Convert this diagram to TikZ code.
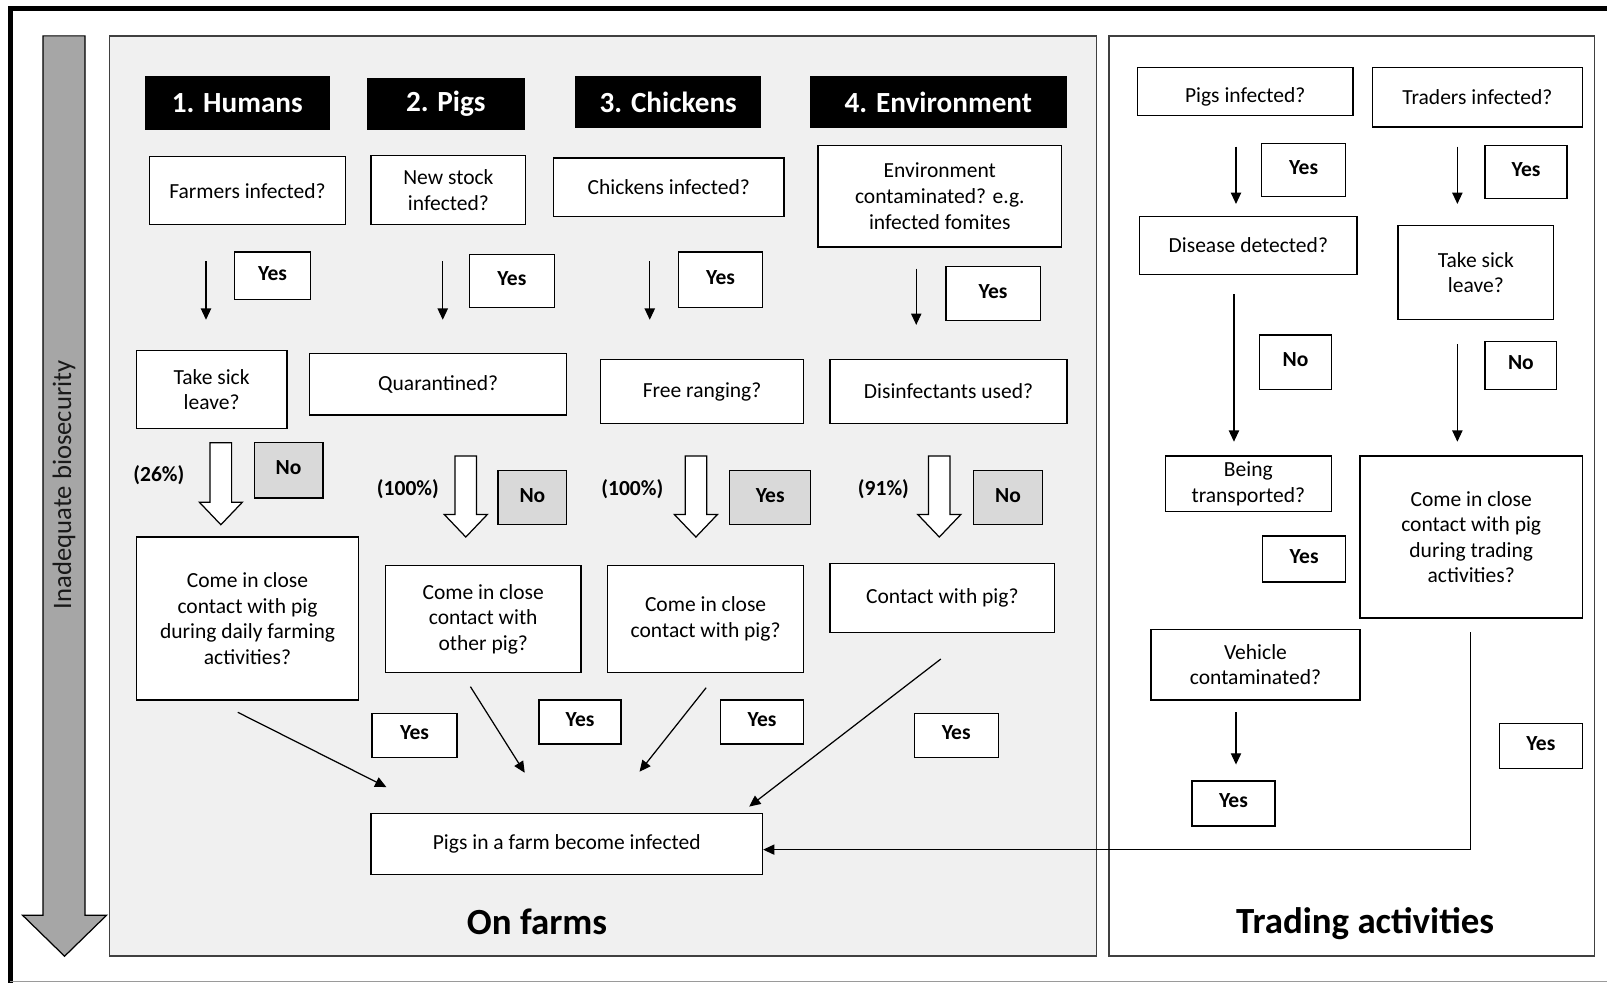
\documentclass[tikz,border=0pt]{standalone}
\usepackage{fontspec}
\setmainfont{Carlito}
\usetikzlibrary{arrows.meta}
\definecolor{panelgray}{HTML}{F0F0F0}
\definecolor{labgray}{HTML}{D9D9D9}
\definecolor{arrgray}{HTML}{A6A6A6}
\definecolor{edgegray}{HTML}{404040}
\definecolor{framegray}{HTML}{9A9A9A}
\tikzset{
 box/.style={draw=black, fill=white, line width=1.3pt, inner sep=0pt, align=center, font=\fontsize{21}{25}\selectfont},
 hdr/.style={fill=black, text=white, inner sep=0pt, font=\bfseries\fontsize{28.5}{32}\selectfont},
 lab/.style={draw=black, fill=white, line width=1.3pt, inner sep=0pt, text depth=5pt, font=\bfseries\fontsize{21}{25}\selectfont},
 glab/.style={lab, fill=labgray},
 pct/.style={font=\bfseries\fontsize{21}{25}\selectfont, inner sep=0pt},
 arr/.style={line width=1.2pt, -{Triangle[length=11pt,width=10pt]}},
 barrow/.style={draw=black, fill=white, line width=1.2pt},
 paneltitle/.style={font=\bfseries\fontsize{36}{40}\selectfont, inner sep=0pt},
 panel/.style={draw=edgegray, line width=1.5pt},
}
\newcommand{\blockarr}[4]{\filldraw[barrow] (#1-10.5,#2) -- (#1+10.5,#2) -- (#1+10.5,#3) -- (#1+21,#3) -- (#1,#4) -- (#1-21,#3) -- (#1-10.5,#3) -- cycle;}
\begin{document}
\begin{tikzpicture}[x=1pt,y=-1pt]
\useasboundingbox (0,0) rectangle (1568,959);
% outer frame
\draw[line width=4.5pt] (1568,8) -- (10,8) -- (10,959);
\draw[framegray, line width=1.5pt] (10,957.5) -- (1568,957.5);
% panels
\filldraw[panel, fill=panelgray] (107,35) rectangle (1070,933);
\filldraw[panel, fill=white] (1082,35) rectangle (1556,933);
% grey biosecurity arrow
\filldraw[fill=arrgray, draw=black, line width=1.2pt] (42,35) -- (83,35) -- (83,893) -- (104,893) -- (63,933) -- (22,893) -- (42,893) -- cycle;
\node[rotate=90, font=\fontsize{26}{30}\selectfont, text=black!90] (bio) at (62.5,473) {Inadequate biosecurity};

% headers
\node[hdr, minimum width=181pt, minimum height=53pt] (h1) at (231.5,100.5) {1. Humans};
\node[hdr, minimum width=154pt, minimum height=51pt] (h2) at (435,101.5) {2. Pigs};
\node[hdr, minimum width=182pt, minimum height=51pt] (h3) at (652,99.5) {3. Chickens};
\node[hdr, minimum width=251pt, minimum height=51pt] (h4) at (915.5,99.5) {4. Environment};

% row 1 questions
\node[box, minimum width=191pt, minimum height=66pt] (q1) at (241.5,186) {Farmers infected?};
\node[box, minimum width=151pt, minimum height=67pt] (q2) at (437.5,185.5) {New stock\\infected?};
\node[box, minimum width=225pt, minimum height=57pt] (q3) at (652.5,182.5) {Chickens infected?};
\node[box, minimum width=238pt, minimum height=99pt] (q4) at (917,191.5) {Environment\\contaminated? e.g.\\infected fomites};

% row 1 yes labels
\node[lab, minimum width=74pt, minimum height=46pt] (y1) at (266,269) {Yes};
\node[lab, minimum width=83pt, minimum height=52pt] (y2) at (499.5,274) {Yes};
\node[lab, minimum width=82pt, minimum height=54pt] (y3) at (703,273) {Yes};
\node[lab, minimum width=92pt, minimum height=53pt] (y4) at (969,286.5) {Yes};

% row 1 arrows
\coordinate (a1s) at (201,255); \coordinate (a1e) at (201,312);
\coordinate (a2s) at (432,255); \coordinate (a2e) at (432,312);
\coordinate (a3s) at (634,255); \coordinate (a3e) at (634,312);
\coordinate (a4s) at (894,262); \coordinate (a4e) at (894,317);
\draw[arr] (a1s) -- (a1e);
\draw[arr] (a2s) -- (a2e);
\draw[arr] (a3s) -- (a3e);
\draw[arr] (a4s) -- (a4e);

% row 2 questions
\node[box, minimum width=147pt, minimum height=76pt] (r1) at (206.5,380) {Take sick\\leave?};
\node[box, minimum width=251pt, minimum height=60pt] (r2) at (427.5,375) {Quarantined?};
\node[box, minimum width=198pt, minimum height=62pt] (r3) at (685,382) {Free ranging?};
\node[box, minimum width=231pt, minimum height=62pt] (r4) at (925.5,382) {Disinfectants used?};

% block arrows
\blockarr{215.5}{432}{490}{512}
\blockarr{454.5}{445}{502}{524}
\blockarr{679}{445}{502}{524}
\blockarr{916.5}{445}{502}{524}

% grey labels
\node[glab, minimum width=67pt, minimum height=54pt] (g1) at (281.5,459) {No};
\node[glab, minimum width=67pt, minimum height=53pt] (g2) at (519.5,485.5) {No};
\node[glab, minimum width=79pt, minimum height=53pt] (g3) at (751.5,485.5) {Yes};
\node[glab, minimum width=67pt, minimum height=53pt] (g4) at (983.5,485.5) {No};

% percentages
\node[pct] (p1) at (155,464) {(26\%)};
\node[pct] (p2) at (398,477) {(100\%)};
\node[pct] (p3) at (617,477) {(100\%)};
\node[pct] (p4) at (862,477) {(91\%)};

% row 3 questions
\node[box, minimum width=217pt, minimum height=159pt] (c1) at (241.5,603.5) {Come in close\\contact with pig\\during daily farming\\activities?};
\node[box, minimum width=191pt, minimum height=104pt] (c2) at (471.5,604) {Come in close\\contact with\\other pig?};
\node[box, minimum width=191pt, minimum height=104pt] (c3) at (688.5,604) {Come in close\\contact with pig?};
\node[box, minimum width=219pt, minimum height=67pt] (c4) at (919.5,583.5) {Contact with pig?};

% row 4 yes labels
\node[lab, minimum width=83pt, minimum height=43pt] (z1) at (404.5,717.5) {Yes};
\node[lab, minimum width=80pt, minimum height=43pt] (z2) at (566,704.5) {Yes};
\node[lab, minimum width=81pt, minimum height=43pt] (z3) at (743.5,704.5) {Yes};
\node[lab, minimum width=82pt, minimum height=43pt] (z4) at (933,717.5) {Yes};

% final box
\node[box, minimum width=382pt, minimum height=59pt] (fin) at (553,823.5) {Pigs in a farm become infected};

% diagonal arrows
\coordinate (d1s) at (232,695); \coordinate (d1e) at (377,768);
\coordinate (d2s) at (459,670); \coordinate (d2e) at (512,754);
\coordinate (d3s) at (689,671); \coordinate (d3e) at (624,753);
\coordinate (d4s) at (918,643); \coordinate (d4e) at (731,787);
\draw[arr] (d1s) -- (d1e);
\draw[arr] (d2s) -- (d2e);
\draw[arr] (d3s) -- (d3e);
\draw[arr] (d4s) -- (d4e);

% titles
\node[paneltitle] (farmtitle) at (524,899) {On farms};
\node[paneltitle] (tradetitle) at (1332,901) {Trading activities};

% trading activities
\node[box, minimum width=210pt, minimum height=47pt, text height=26pt, text depth=5pt] (t1) at (1215,89.5) {Pigs infected?};
\node[box, minimum width=205pt, minimum height=58pt] (t2) at (1441.5,95) {Traders infected?};
\node[lab, minimum width=82pt, minimum height=52pt] (ty1) at (1272,166) {Yes};
\node[lab, minimum width=80pt, minimum height=52pt] (ty2) at (1489,168) {Yes};
\coordinate (b1s) at (1206,143); \coordinate (b1e) at (1206,199);
\coordinate (b2s) at (1422,143); \coordinate (b2e) at (1422,199);
\draw[arr] (b1s) -- (b1e);
\draw[arr] (b2s) -- (b2e);
\node[box, minimum width=212pt, minimum height=57pt] (t3) at (1218,239.5) {Disease detected?};
\node[box, minimum width=152pt, minimum height=92pt] (t4) at (1440,266) {Take sick\\leave?};
\coordinate (b3s) at (1204,287); \coordinate (b3e) at (1204,431);
\coordinate (b4s) at (1422,336); \coordinate (b4e) at (1422,431);
\draw[arr] (b3s) -- (b3e);
\draw[arr] (b4s) -- (b4e);
\node[lab, minimum width=70pt, minimum height=53pt] (tn1) at (1264,353.5) {No};
\node[lab, minimum width=70pt, minimum height=47pt] (tn2) at (1484,356.5) {No};
\node[box, minimum width=162pt, minimum height=54pt] (t5) at (1218,472) {Being\\transported?};
\node[box, minimum width=217pt, minimum height=158pt] (t6) at (1435.5,524) {Come in close\\contact with pig\\during trading\\activities?};
\node[lab, minimum width=81pt, minimum height=45pt] (ty3) at (1272.5,545.5) {Yes};
\node[box, minimum width=204pt, minimum height=69pt] (t7) at (1225,648.5) {Vehicle\\contaminated?};
\coordinate (b5s) at (1206,695); \coordinate (b5e) at (1206,746);
\draw[arr] (b5s) -- (b5e);
\node[lab, minimum width=81pt, minimum height=44pt] (ty4) at (1203.5,784) {Yes};
\node[lab, minimum width=81pt, minimum height=44pt] (ty5) at (1503.5,728) {Yes};
\coordinate (ls) at (1435,617); \coordinate (lc) at (1435,829);
\draw[arr] (ls) |- (fin.east |- lc);
\end{tikzpicture}
\end{document}
